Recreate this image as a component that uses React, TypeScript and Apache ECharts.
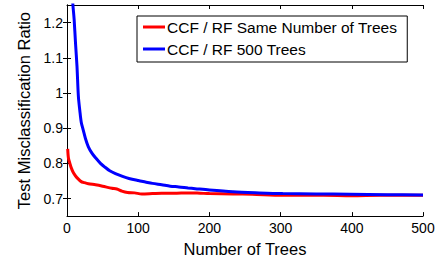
import React, { useEffect, useRef } from "react";
import * as echarts from "echarts";

const seriesNames = ["CCF / RF Same Number of Trees", "CCF / RF 500 Trees"];

const redTrees = [1, 2, 4, 6, 9, 12, 16, 20, 23, 30, 40, 50, 63, 70, 77, 85, 95, 105, 120, 133, 150, 171, 187, 200, 233, 260, 303, 330, 360, 400, 440, 470, 500];
const redValues = [0.841, 0.815, 0.8, 0.787, 0.773, 0.764, 0.755, 0.748, 0.746, 0.742, 0.739, 0.735, 0.729, 0.727, 0.721, 0.717, 0.716, 0.713, 0.714, 0.715, 0.715, 0.716, 0.715, 0.714, 0.713, 0.712, 0.709, 0.709, 0.709, 0.708, 0.709, 0.709, 0.709];

const blueTrees = [5, 8, 10, 12, 14, 16, 18, 20, 23, 26, 30, 35, 40, 47, 54, 60, 68, 78, 87, 100, 110, 120, 133, 145, 157, 170, 180, 200, 233, 270, 303, 350, 397, 450, 500];
const blueValues = [1.45, 1.26, 1.21, 1.14, 1.077, 0.99, 0.95, 0.917, 0.893, 0.87, 0.847, 0.829, 0.816, 0.8, 0.788, 0.779, 0.771, 0.763, 0.757, 0.751, 0.747, 0.743, 0.739, 0.735, 0.733, 0.73, 0.728, 0.724, 0.719, 0.716, 0.714, 0.713, 0.712, 0.711, 0.71];

const yTicks = [0.7, 0.8, 0.9, 1, 1.1, 1.2];
const xTicks = [0, 100, 200, 300, 400, 500];

const FONT = "'Liberation Sans', Arial, Helvetica, sans-serif";

export default function App() {
  const ref = useRef<HTMLDivElement>(null);
  useEffect(() => {
    if (!ref.current) return;
    const chart = echarts.init(ref.current, undefined, { renderer: "svg" });
    const axisLine = { show: true, lineStyle: { color: "#000", width: 1 } };
    const tick = { show: true, inside: true, length: 4, lineStyle: { color: "#000" } };
    chart.setOption({
      animation: false,
      backgroundColor: "#fff",
      textStyle: { fontFamily: FONT },
      grid: { left: 67, top: 5, width: 356, height: 213, containLabel: false },
      legend: {
        orient: "vertical",
        left: 137,
        top: 16,
        padding: [3, 10, 5, 6],
        itemGap: 6,
        itemWidth: 22,
        itemHeight: 3,
        icon: "rect",
        borderColor: "#000",
        borderWidth: 1,
        backgroundColor: "#fff",
        textStyle: { fontFamily: FONT, fontSize: 15.5, color: "#000", padding: [0, 0, 0, -3] },
        data: seriesNames,
      },
      xAxis: [
        {
          type: "value",
          min: xTicks[0],
          max: xTicks[xTicks.length - 1],
          interval: 100,
          position: "bottom",
          name: "Number of Trees",
          nameLocation: "middle",
          nameGap: 19,
          nameTextStyle: { fontFamily: FONT, fontSize: 16.5, color: "#000" },
          axisLine,
          axisTick: tick,
          axisLabel: { color: "#000", fontSize: 14, fontFamily: FONT, margin: 5 },
          splitLine: { show: false },
        },
        {
          type: "value",
          min: xTicks[0],
          max: xTicks[xTicks.length - 1],
          interval: 100,
          position: "top",
          axisLine,
          axisTick: tick,
          axisLabel: { show: false },
          splitLine: { show: false },
        },
      ],
      yAxis: [
        {
          type: "value",
          min: 0.65,
          max: 1.25,
          position: "left",
          name: "Test Misclassification Ratio",
          nameLocation: "middle",
          nameGap: 34,
          nameTextStyle: { fontFamily: FONT, fontSize: 16.5, color: "#000" },
          axisLine,
          axisTick: { ...tick, customValues: yTicks },
          axisLabel: { color: "#000", fontSize: 14, fontFamily: FONT, margin: 4, customValues: yTicks },
          splitLine: { show: false },
        },
        {
          type: "value",
          min: 0.65,
          max: 1.25,
          position: "right",
          axisLine,
          axisTick: { ...tick, customValues: yTicks },
          axisLabel: { show: false },
          splitLine: { show: false },
        },
      ],
      series: [
        {
          name: seriesNames[0],
          type: "line",
          data: redTrees.map((t, i) => [t, redValues[i]]),
          showSymbol: false,
          symbol: "none",
          smooth: 0.3,
          lineStyle: { color: "#ff0000", width: 3 },
          itemStyle: { color: "#ff0000" },
          clip: true,
          z: 3,
        },
        {
          name: seriesNames[1],
          type: "line",
          data: blueTrees.map((t, i) => [t, blueValues[i]]),
          showSymbol: false,
          symbol: "none",
          smooth: 0.3,
          lineStyle: { color: "#0000ff", width: 3 },
          itemStyle: { color: "#0000ff" },
          clip: true,
          z: 4,
        },
      ],
    });
    return () => chart.dispose();
  }, []);
  return (
    <div
      ref={ref}
      style={{ position: "fixed", left: 0, top: 0, width: 441, height: 262, background: "#fff" }}
    />
  );
}
